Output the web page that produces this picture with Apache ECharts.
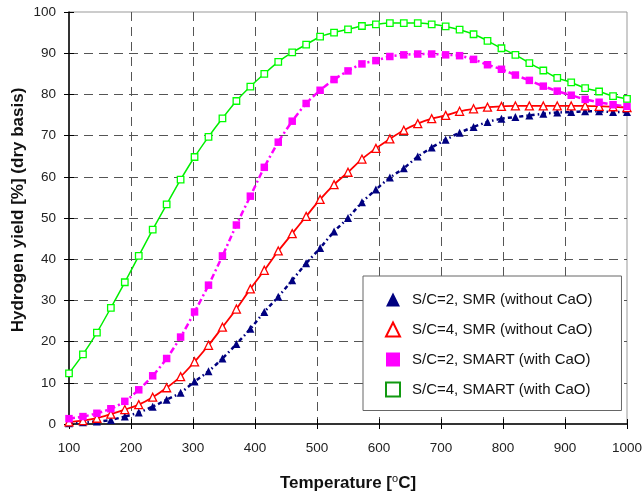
<!DOCTYPE html>
<html>
<head>
<meta charset="utf-8">
<script src="https://cdn.jsdelivr.net/npm/echarts@6/dist/echarts.min.js"></script>
<style>
  html, body { margin: 0; padding: 0; background: #fff; }
  #chart { width: 644px; height: 495px; }
</style>
</head>
<body>
<div id="chart"></div>
<script>
// temperatures [oC]
var temps = [100, 122.5, 145, 167.5, 190, 212.5, 235, 257.5, 280, 302.5, 325, 347.5, 370, 392.5,
  415, 437.5, 460, 482.5, 505, 527.5, 550, 572.5, 595, 617.5, 640, 662.5, 685, 707.5,
  730, 752.5, 775, 797.5, 820, 842.5, 865, 887.5, 910, 932.5, 955, 977.5, 1000];

// hydrogen yield [%]
var smr2 = [0.2, 0.4, 0.6, 1, 1.8, 2.8, 4.2, 5.9, 7.6, 10.3, 12.8, 15.9, 19.4, 23.1, 27.2, 30.9,
  34.9, 39, 42.7, 46.7, 50, 53.8, 56.9, 59.8, 62.1, 64.9, 67.1, 69, 70.7, 72.1, 73.3, 74.1,
  74.5, 74.9, 75.3, 75.6, 75.7, 75.9, 75.9, 75.7, 75.7];
var smr4 = [0.5, 0.8, 1.4, 2.4, 3.5, 4.7, 6.5, 8.8, 11.5, 15.1, 19.1, 23.5, 27.9, 32.8, 37.3, 42,
  46.2, 50.4, 54.5, 58.1, 61.1, 64.3, 66.9, 69.2, 71.3, 72.9, 74.1, 74.9, 75.9, 76.5, 76.9,
  77.1, 77.2, 77.2, 77.2, 77.2, 77.2, 77.2, 77.1, 77, 76.8];
var smart2 = [1.3, 1.8, 2.6, 3.7, 5.5, 8.3, 11.7, 15.9, 21.1, 27.2, 33.7, 40.8, 48.3, 55.3, 62.3,
  68.4, 73.5, 77.8, 81, 83.6, 85.7, 87.4, 88.2, 89.2, 89.6, 89.8, 89.8, 89.6, 89.4, 88.5, 87.2,
  86.1, 84.7, 83.4, 82, 80.8, 79.8, 78.8, 78.1, 77.5, 77.1];
var smart4 = [12.3, 16.9, 22.2, 28.2, 34.4, 40.8, 47.2, 53.3, 59.3, 64.8, 69.7, 74.2, 78.4, 81.9,
  85, 87.9, 90.2, 92.1, 94, 95, 95.8, 96.6, 97, 97.3, 97.3, 97.3, 97, 96.5, 95.7, 94.6, 93,
  91.2, 89.6, 87.6, 85.8, 84, 82.9, 81.5, 80.7, 79.6, 78.9];

var names = ['S/C=2, SMR (without CaO)', 'S/C=4, SMR (without CaO)',
  'S/C=2, SMART (with CaO)', 'S/C=4, SMART (with CaO)'];

var font = '"Liberation Sans", Arial, sans-serif';

function pairs(ys) {
  var out = [];
  for (var i = 0; i < temps.length; i++) {
    out.push([temps[i], ys[i]]);
  }
  return out;
}

var chart = echarts.init(document.getElementById('chart'), null, { renderer: 'canvas' });

var option = {
  backgroundColor: '#fff',
  animation: false,
  textStyle: { fontFamily: font },
  grid: {
    left: 69, right: 17, top: 12, bottom: 71,
    outerBoundsMode: 'none',
    show: true,
    borderColor: '#999',
    borderWidth: 1
  },
  legend: {
    orient: 'vertical',
    left: 363,
    top: 276,
    padding: [16, 29, 13, 22],
    itemWidth: 14,
    itemHeight: 14,
    itemGap: 14.5,
    backgroundColor: '#fff',
    borderColor: '#666',
    borderWidth: 1,
    textStyle: { fontSize: 15, lineHeight: 14, color: '#111', fontFamily: font, padding: [0, 0, 0, 7] },
    data: [
      { name: names[0], icon: 'triangle', itemStyle: { color: '#000080', borderWidth: 0 } },
      { name: names[1], icon: 'triangle', itemStyle: { color: '#fff', borderColor: '#ff0000', borderWidth: 2 } },
      { name: names[2], icon: 'rect', itemStyle: { color: '#ff00ff', borderWidth: 0 } },
      { name: names[3], icon: 'rect', itemStyle: { color: '#fff', borderColor: '#119911', borderWidth: 2 } }
    ]
  },
  xAxis: [{
    type: 'value',
    position: 'bottom',
    min: 100, max: 1000, interval: 100,
    name: 'Temperature [{s|o}C]',
    nameLocation: 'middle',
    nameGap: 49,
    nameTextStyle: {
      fontSize: 17, fontWeight: 'bold', color: '#111', fontFamily: font, lineHeight: 20,
      rich: { s: { fontSize: 11, fontWeight: 'normal', color: '#111', verticalAlign: 'top', lineHeight: 13 } }
    },
    axisLine: { show: true, lineStyle: { color: '#000', width: 1.5 } },
    axisTick: { show: true, length: 5, lineStyle: { color: '#000' } },
    axisLabel: {
      fontSize: 13.5, color: '#222', margin: 17,
      formatter: function (v) { return String(v); }
    },
    splitLine: {
      show: true, showMinLine: false, showMaxLine: false,
      lineStyle: { color: '#555', type: [9, 6], width: 1 }
    }
  }, {
    // inner half of the crossing ticks
    type: 'value',
    position: 'bottom',
    min: 100, max: 1000, interval: 100,
    axisLine: { show: false },
    axisTick: { show: true, inside: true, length: 5, lineStyle: { color: '#000' } },
    axisLabel: { show: false },
    splitLine: { show: false }
  }],
  yAxis: [{
    type: 'value',
    position: 'left',
    min: 0, max: 100, interval: 10,
    name: 'Hydrogen yield [%] (dry basis)',
    nameLocation: 'middle',
    nameGap: 42,
    nameMoveOverlap: false,
    nameTextStyle: { fontSize: 17, fontWeight: 'bold', color: '#111', fontFamily: font, padding: [0, 0, 0, 16] },
    axisLine: { show: true, lineStyle: { color: '#000', width: 1.5 } },
    axisTick: { show: true, length: 5, lineStyle: { color: '#000' } },
    axisLabel: { fontSize: 13.5, color: '#222', margin: 13 },
    splitLine: {
      show: true, showMinLine: false, showMaxLine: false,
      lineStyle: { color: '#555', type: [9, 6], width: 1 }
    }
  }, {
    type: 'value',
    position: 'left',
    min: 0, max: 100, interval: 10,
    axisLine: { show: false },
    axisTick: { show: true, inside: true, length: 5, lineStyle: { color: '#000' } },
    axisLabel: { show: false },
    splitLine: { show: false }
  }],
  series: [{
    name: names[0],
    type: 'line',
    data: pairs(smr2),
    smooth: 0.3,
    symbol: 'triangle',
    symbolSize: 8,
    itemStyle: { color: '#000080', borderWidth: 0 },
    lineStyle: { color: '#000080', width: 2.5, type: [4, 3, 1.5, 3] }
  }, {
    name: names[1],
    type: 'line',
    data: pairs(smr4),
    smooth: 0.3,
    symbol: 'triangle',
    symbolSize: 8,
    itemStyle: { color: '#fff', borderColor: '#ff0000', borderWidth: 1.3 },
    lineStyle: { color: '#ff0000', width: 1.8 }
  }, {
    name: names[2],
    type: 'line',
    data: pairs(smart2),
    smooth: 0.3,
    symbol: 'rect',
    symbolSize: 7.5,
    itemStyle: { color: '#ff00ff', borderWidth: 0 },
    lineStyle: { color: '#ff00ff', width: 2.5, type: [6, 3, 2, 3] }
  }, {
    name: names[3],
    type: 'line',
    data: pairs(smart4),
    smooth: 0.3,
    symbol: 'rect',
    symbolSize: 6.5,
    itemStyle: { color: '#fff', borderColor: '#00ff00', borderWidth: 1.3 },
    lineStyle: { color: '#00ee00', width: 1.5 }
  }]
};

chart.setOption(option);
</script>
</body>
</html>
